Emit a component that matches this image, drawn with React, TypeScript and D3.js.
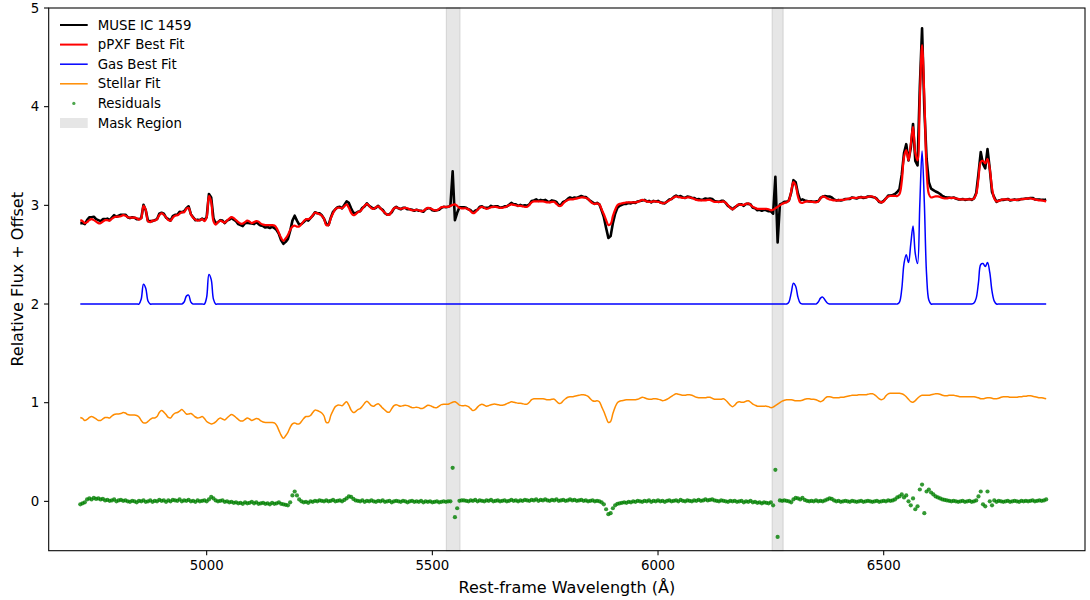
import React from 'react';
import * as d3 from 'd3';

// Rest-frame wavelength sampling of the spectrum (Å)
const WAVE_START = 4720;
const WAVE_STEP = 5;

// Stellar fit (orange), one value per 5 Å from 4720 Å
const stellarFit = [
  0.85, 0.84, 0.82, 0.83, 0.85, 0.86, 0.85, 0.835, 0.82, 0.82,
  0.835, 0.85, 0.85, 0.845, 0.865, 0.88, 0.885, 0.885, 0.89, 0.9,
  0.895, 0.88, 0.875, 0.875, 0.875, 0.87, 0.855, 0.82, 0.795, 0.795,
  0.81, 0.83, 0.845, 0.845, 0.86, 0.9, 0.92, 0.905, 0.88, 0.85,
  0.845, 0.875, 0.895, 0.9, 0.915, 0.93, 0.91, 0.885, 0.885, 0.89,
  0.875, 0.855, 0.845, 0.85, 0.86, 0.84, 0.81, 0.795, 0.785, 0.79,
  0.805, 0.83, 0.845, 0.835, 0.825, 0.845, 0.865, 0.88, 0.87, 0.85,
  0.83, 0.815, 0.815, 0.83, 0.845, 0.835, 0.82, 0.83, 0.84, 0.835,
  0.815, 0.805, 0.8, 0.8, 0.8, 0.8, 0.795, 0.77, 0.72, 0.67,
  0.64, 0.665, 0.7, 0.75, 0.785, 0.795, 0.785, 0.785, 0.81, 0.84,
  0.86, 0.86, 0.87, 0.9, 0.925, 0.92, 0.91, 0.895, 0.865, 0.8,
  0.8, 0.87, 0.92, 0.96, 0.975, 0.975, 0.97, 0.99, 1.01, 0.975,
  0.925, 0.9, 0.91, 0.93, 0.94, 0.965, 0.995, 1.015, 0.995, 0.97,
  0.965, 0.98, 0.99, 0.97, 0.945, 0.925, 0.905, 0.905, 0.94, 0.97,
  0.98, 0.97, 0.965, 0.97, 0.975, 0.97, 0.96, 0.95, 0.95, 0.955,
  0.95, 0.94, 0.945, 0.96, 0.975, 0.97, 0.96, 0.95, 0.95, 0.965,
  0.98, 0.985, 0.985, 0.985, 0.995, 1.005, 1.01, 0.995, 0.975, 0.97,
  0.97, 0.97, 0.96, 0.94, 0.92, 0.93, 0.955, 0.975, 0.985, 0.975,
  0.965, 0.97, 0.98, 0.985, 0.985, 0.98, 0.975, 0.975, 0.98, 0.99,
  1.0, 1.01, 1.005, 1.0, 0.995, 0.995, 0.99, 0.985, 0.985, 1.005,
  1.03, 1.04, 1.04, 1.04, 1.04, 1.04, 1.035, 1.03, 1.03, 1.035,
  1.035, 1.015, 0.995, 0.995, 1.02, 1.04, 1.055, 1.06, 1.06, 1.065,
  1.07, 1.075, 1.08, 1.08, 1.075, 1.065, 1.04, 1.02, 1.015, 1.02,
  1.01, 0.96, 0.91, 0.85, 0.8, 0.81, 0.89, 0.955, 1.0, 1.015,
  1.02, 1.025, 1.03, 1.03, 1.03, 1.03, 1.03, 1.035, 1.045, 1.055,
  1.05, 1.04, 1.035, 1.035, 1.04, 1.04, 1.035, 1.03, 1.02, 1.025,
  1.035, 1.05, 1.065, 1.08, 1.09, 1.085, 1.08, 1.075, 1.075, 1.08,
  1.08, 1.075, 1.065, 1.055, 1.05, 1.05, 1.05, 1.05, 1.055, 1.055,
  1.045, 1.035, 1.035, 1.035, 1.035, 1.04, 1.025, 1.0, 0.975, 0.96,
  0.975, 1.0, 1.01, 1.005, 1.005, 1.015, 1.02, 1.005, 0.985, 0.975,
  0.965, 0.965, 0.965, 0.965, 0.965, 0.96, 0.95, 0.955, 0.97, 0.985,
  1.0, 1.015, 1.025, 1.03, 1.03, 1.03, 1.025, 1.02, 1.02, 1.02,
  1.025, 1.035, 1.04, 1.04, 1.035, 1.035, 1.03, 1.02, 1.01, 1.02,
  1.045, 1.06, 1.06, 1.055, 1.05, 1.05, 1.05, 1.055, 1.055, 1.06,
  1.065, 1.07, 1.075, 1.075, 1.075, 1.08, 1.08, 1.08, 1.08, 1.085,
  1.09, 1.09, 1.08, 1.06, 1.04, 1.03, 1.04, 1.07, 1.09, 1.095,
  1.095, 1.095, 1.095, 1.095, 1.09, 1.08, 1.06, 1.035, 1.01, 1.005,
  1.02, 1.045, 1.065, 1.075, 1.075, 1.075, 1.075, 1.08, 1.085, 1.09,
  1.09, 1.085, 1.075, 1.07, 1.07, 1.075, 1.075, 1.075, 1.07, 1.065,
  1.06, 1.06, 1.06, 1.06, 1.06, 1.06, 1.06, 1.055, 1.05, 1.04,
  1.04, 1.045, 1.05, 1.05, 1.045, 1.04, 1.04, 1.045, 1.055, 1.06,
  1.06, 1.06, 1.055, 1.055, 1.055, 1.055, 1.06, 1.06, 1.065, 1.065,
  1.07, 1.07, 1.065, 1.06, 1.055, 1.05, 1.05, 1.045, 1.04,
];

// Gas best fit (blue), plotted with its +2 offset
const gasFit = [
  2, 2, 2, 2, 2, 2, 2, 2, 2, 2,
  2, 2, 2, 2, 2, 2, 2, 2, 2, 2,
  2, 2, 2, 2, 2, 2, 2, 2.05, 2.2, 2.16,
  2.03, 2, 2, 2, 2, 2, 2, 2, 2, 2,
  2, 2, 2, 2, 2, 2, 2.02, 2.08, 2.09, 2.02,
  2, 2, 2, 2, 2, 2, 2.07, 2.3, 2.25, 2.05,
  2, 2, 2, 2, 2, 2, 2, 2, 2, 2,
  2, 2, 2, 2, 2, 2, 2, 2, 2, 2,
  2, 2, 2, 2, 2, 2, 2, 2, 2, 2,
  2, 2, 2, 2, 2, 2, 2, 2, 2, 2,
  2, 2, 2, 2, 2, 2, 2, 2, 2, 2,
  2, 2, 2, 2, 2, 2, 2, 2, 2, 2,
  2, 2, 2, 2, 2, 2, 2, 2, 2, 2,
  2, 2, 2, 2, 2, 2, 2, 2, 2, 2,
  2, 2, 2, 2, 2, 2, 2, 2, 2, 2,
  2, 2, 2, 2, 2, 2, 2, 2, 2, 2,
  2, 2, 2, 2, 2, 2, 2, 2, 2, 2,
  2, 2, 2, 2, 2, 2, 2, 2, 2, 2,
  2, 2, 2, 2, 2, 2, 2, 2, 2, 2,
  2, 2, 2, 2, 2, 2, 2, 2, 2, 2,
  2, 2, 2, 2, 2, 2, 2, 2, 2, 2,
  2, 2, 2, 2, 2, 2, 2, 2, 2, 2,
  2, 2, 2, 2, 2, 2, 2, 2, 2, 2,
  2, 2, 2, 2, 2, 2, 2, 2, 2, 2,
  2, 2, 2, 2, 2, 2, 2, 2, 2, 2,
  2, 2, 2, 2, 2, 2, 2, 2, 2, 2,
  2, 2, 2, 2, 2, 2, 2, 2, 2, 2,
  2, 2, 2, 2, 2, 2, 2, 2, 2, 2,
  2, 2, 2, 2, 2, 2, 2, 2, 2, 2,
  2, 2, 2, 2, 2, 2, 2, 2, 2, 2,
  2, 2, 2, 2, 2, 2, 2, 2, 2, 2,
  2, 2, 2, 2, 2.02, 2.11, 2.21, 2.18, 2.07, 2.01,
  2, 2, 2, 2, 2, 2, 2, 2.02, 2.06, 2.07,
  2.04, 2.01, 2, 2, 2, 2, 2, 2, 2, 2,
  2, 2, 2, 2, 2, 2, 2, 2, 2, 2,
  2, 2, 2, 2, 2, 2, 2, 2, 2, 2,
  2, 2, 2, 2.02, 2.15, 2.41, 2.5, 2.42, 2.61, 2.79,
  2.51, 2.41, 3.01, 3.55, 3.03, 2.3, 2.04, 2, 2, 2,
  2, 2, 2, 2, 2, 2, 2, 2, 2, 2,
  2, 2, 2, 2, 2, 2, 2.01, 2.06, 2.22, 2.4,
  2.41, 2.38, 2.42, 2.32, 2.13, 2.03, 2, 2, 2, 2,
  2, 2, 2, 2, 2, 2, 2, 2, 2, 2,
  2, 2, 2, 2, 2, 2, 2, 2, 2,
];

// Residuals (green points) = data - best fit
const residuals = [
  -0.03, -0.02, -0.01, 0.02, 0.03, 0.02, 0.035, 0.025, 0.03, 0.02,
  0.025, 0.01, 0.015, 0.005, 0.01, 0.02, 0, 0.01, 0.015, 0.005,
  0.01, 0, -0.005, 0.005, 0, -0.01, 0.005, 0, 0.01, -0.005,
  0, 0.01, -0.005, 0.005, 0, 0.015, 0.005, 0.01, -0.005, 0.01,
  0, 0.015, 0.01, 0.005, 0.02, 0, 0.01, 0.005, 0.015, 0,
  0.005, -0.005, 0.01, 0, 0.005, 0.01, 0, 0.02, 0.045, 0.03,
  0.01, 0, 0.005, 0.01, -0.005, 0, -0.01, -0.005, -0.015, -0.01,
  -0.02, -0.015, -0.025, -0.01, -0.02, -0.015, -0.005, -0.02, -0.01, -0.025,
  -0.02, -0.015, -0.025, -0.02, -0.03, -0.015, -0.025, -0.02, -0.01, -0.025,
  -0.03, -0.035, -0.04, -0.01, 0.06, 0.1, 0.06, 0.02, 0, -0.01,
  -0.005, -0.015, 0, -0.005, 0.005, 0, 0.01, 0.005, 0, 0.01,
  0, 0.005, 0.015, 0, 0.005, 0.01, 0, 0.015, 0.03, 0.05,
  0.045, 0.025, 0.01, 0.005, 0, 0.01, -0.005, 0.005, 0, 0.01,
  0, -0.005, 0.005, 0, 0.01, -0.005, 0, 0.005, -0.01, 0,
  0.005, 0, -0.005, 0.005, 0, -0.01, 0, 0.005, -0.005, 0,
  -0.005, 0.005, -0.01, 0, -0.005, 0, -0.01, -0.005, 0, -0.01,
  -0.005, 0, -0.005, 0, 0, 0.34, -0.16, -0.07, 0.005, 0.01,
  0.01, 0.005, 0, 0.01, 0.005, 0.015, 0, 0.01, 0.005, 0,
  0.01, 0.005, 0.015, 0, 0.005, 0.01, 0, 0.005, 0.01, 0,
  0.005, 0.015, 0.005, 0.01, 0, 0.01, 0.005, 0.015, 0.01, 0.005,
  0.015, 0.01, 0.02, 0.005, 0.015, 0.01, 0.02, 0.01, 0.005, 0.015,
  0.01, 0.02, 0.005, 0.01, 0.015, 0.005, 0.01, 0.02, 0.01, 0.015,
  0.005, 0.01, 0.015, 0.005, 0.01, 0, 0.005, 0.01, 0, 0.005,
  0, -0.01, -0.03, -0.08, -0.13, -0.12, -0.07, -0.04, -0.025, -0.02,
  -0.015, -0.01, -0.015, -0.005, -0.01, 0, -0.005, 0.005, 0, -0.005,
  0.005, 0, 0.01, -0.005, 0.005, 0, 0.01, 0, 0.005, -0.005,
  0.005, 0.01, 0, 0.005, 0.01, 0, 0.015, 0.005, 0, 0.01,
  0.005, 0, 0.01, 0.005, 0.015, 0.005, 0.01, 0.02, 0.01, 0.015,
  0.02, 0.01, 0.005, 0, 0.01, 0.005, 0, -0.005, 0.005, 0,
  0.005, -0.005, 0, 0.005, -0.01, 0, -0.005, 0.005, -0.01, -0.005,
  -0.015, -0.01, -0.02, -0.01, -0.015, -0.02, -0.01, -0.04, 0.32, -0.36,
  0.01, 0.005, 0.01, 0.005, 0, -0.01, 0.02, 0.035, 0.03, 0.02,
  0.035, 0.015, 0.005, 0, 0.005, 0, 0.01, 0, 0.005, 0,
  0.01, 0.02, 0.03, 0.025, 0.01, 0, 0.005, -0.005, 0, 0.005,
  0, -0.005, 0.005, 0, -0.005, 0, 0.005, -0.005, 0, 0.005,
  0, -0.005, 0, 0.005, -0.005, 0, 0.005, 0, 0.01, 0.005,
  0.01, 0.02, 0.04, 0.05, 0.07, 0.04, 0.06, 0, -0.04, 0.03,
  -0.08, -0.05, 0.12, 0.17, -0.12, 0.1, 0.12, 0.09, 0.07, 0.05,
  0.04, 0.03, 0.02, 0.015, 0.01, 0.005, 0, 0.005, 0, -0.005,
  0, 0.005, -0.005, 0, 0.005, -0.005, 0, 0.01, 0.05, 0.1,
  -0.03, -0.05, 0.1, 0, -0.04, 0.01, -0.005, 0.005, 0, -0.005,
  0, 0.005, -0.005, 0, 0.005, 0, -0.005, 0.005, 0, 0.005,
  0, 0.005, 0.01, 0, 0.005, 0.01, 0.005, 0.01, 0.02,
];

const maskRegions: [number, number][] = [[5531, 5561], [6253, 6277]];
const xTicks = [5000, 5500, 6000, 6500];
const yTicks = [0, 1, 2, 3, 4, 5];
const legendLabels = ['MUSE IC 1459', 'pPXF Best Fit', 'Gas Best Fit', 'Stellar Fit', 'Residuals', 'Mask Region'];

const FONT = '"DejaVu Sans", sans-serif';
const FS = 13.33;
const FS_LABEL = 16;

export default function App() {
  const W = 1090, H = 600;
  const left = 48.7, right = 1085, top = 8, bottom = 550.7;
  const x = d3.scaleLinear().domain([4650, 6946]).range([left, right]);
  const y = d3.scaleLinear().domain([-0.5, 5]).range([bottom, top]);

  const wave = stellarFit.map((_, i) => WAVE_START + WAVE_STEP * i);
  const bestFit = stellarFit.map((s, i) => s + gasFit[i]);
  const observed = bestFit.map((b, i) => b + residuals[i]);

  const smooth = d3.line<number>()
    .x((_, i) => x(wave[i]))
    .y((d) => y(d))
    .curve(d3.curveCatmullRom.alpha(0.5));
  const jagged = d3.line<number>()
    .x((_, i) => x(wave[i]))
    .y((d) => y(d))
    .curve(d3.curveLinear);

  const legendY = (i: number) => 25 + 19.6 * i;
  const lx0 = 60, lx1 = 87.7, ltx = 97.7;
  const legendStyles = [
    { stroke: '#000000', w: 2 },
    { stroke: '#ff0000', w: 2 },
    { stroke: '#0000ff', w: 1.5 },
    { stroke: '#ff8c00', w: 1.5 },
  ];

  return (
    <svg width={W} height={H} style={{ position: 'absolute', left: 0, top: 0, background: '#fff' }}
      fontFamily={FONT}>
      <rect x={0} y={0} width={W} height={H} fill="#ffffff" />
      {maskRegions.map(([a, b], i) => (
        <rect key={'m' + i} x={x(a)} y={top} width={x(b) - x(a)} height={bottom - top}
          fill="#e6e6e6" stroke="#d2d2d2" strokeWidth={1} />
      ))}

      <path d={jagged(observed) || ''} fill="none" stroke="#000000" strokeWidth={2.6} strokeLinejoin="round" />
      <path d={smooth(bestFit) || ''} fill="none" stroke="#ff0000" strokeWidth={2.2} strokeLinejoin="round" />
      <path d={smooth(gasFit) || ''} fill="none" stroke="#0000ff" strokeWidth={1.5} />
      <path d={smooth(stellarFit) || ''} fill="none" stroke="#ff8c00" strokeWidth={1.5} />
      <g fill="#008000" fillOpacity={0.8}>
        {residuals.map((r, i) => (
          <circle key={'r' + i} cx={x(wave[i])} cy={y(r)} r={2.1} />
        ))}
      </g>

      {/* frame */}
      <rect x={left} y={top} width={right - left} height={bottom - top} fill="none" stroke="#000" strokeWidth={1.07} />

      {/* x axis */}
      {xTicks.map((t) => (
        <g key={'xt' + t}>
          <line x1={x(t)} x2={x(t)} y1={bottom} y2={bottom + 4.67} stroke="#000" strokeWidth={1.07} />
          <text x={x(t)} y={570} textAnchor="middle" fontSize={FS} fill="#000">{t}</text>
        </g>
      ))}
      {/* y axis */}
      {yTicks.map((t) => (
        <g key={'yt' + t}>
          <line x1={left - 4.67} x2={left} y1={y(t)} y2={y(t)} stroke="#000" strokeWidth={1.07} />
          <text x={left - 9.5} y={y(t)} textAnchor="end" dominantBaseline="central" fontSize={FS} fill="#000">{t}</text>
        </g>
      ))}

      <text x={(left + right) / 2} y={593} textAnchor="middle" fontSize={FS_LABEL} fill="#000">Rest-frame Wavelength (Å)</text>
      <text transform={`translate(17, ${(top + bottom) / 2}) rotate(-90)`} textAnchor="middle"
        dominantBaseline="central" fontSize={FS_LABEL} fill="#000">Relative Flux + Offset</text>

      {/* legend */}
      {legendLabels.map((lab, i) => (
        <g key={'lg' + i}>
          {i < 4 && (
            <line x1={lx0} x2={lx1} y1={legendY(i)} y2={legendY(i)} stroke={legendStyles[i].stroke}
              strokeWidth={legendStyles[i].w} />
          )}
          {i === 4 && <circle cx={(lx0 + lx1) / 2} cy={legendY(i)} r={1.6} fill="#008000" fillOpacity={0.7} />}
          {i === 5 && <rect x={lx0} y={legendY(i) - 5} width={lx1 - lx0} height={10} fill="#e6e6e6" />}
          <text x={ltx} y={legendY(i)} dominantBaseline="central" fontSize={FS} fill="#000">{lab}</text>
        </g>
      ))}
    </svg>
  );
}
